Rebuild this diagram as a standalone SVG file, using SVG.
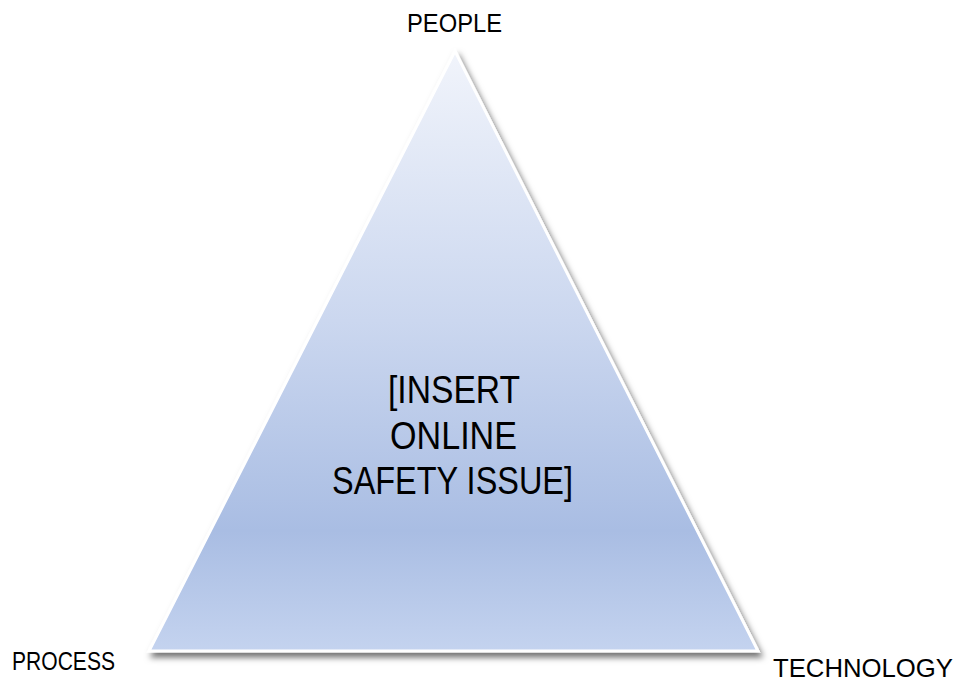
<svg xmlns="http://www.w3.org/2000/svg" width="956" height="684" viewBox="0 0 956 684">
  <style>
    .label { font-family: "Liberation Sans", Arial, sans-serif; fill: #000000; }
    .corner { font-size: 26px; }
    .center { font-size: 38px; text-anchor: middle; }
  </style>
  <defs>
    <linearGradient id="pyramidFill" x1="0" y1="0" x2="0" y2="1">
      <stop offset="0" stop-color="#f1f4fb"/>
      <stop offset="0.45" stop-color="#cbd7ef"/>
      <stop offset="0.8" stop-color="#a9bde3"/>
      <stop offset="1" stop-color="#c4d3ef"/>
    </linearGradient>
    <filter id="outerShadow" x="-10%" y="-10%" width="125%" height="125%">
      <feDropShadow dx="3" dy="5" stdDeviation="3" flood-color="#000000" flood-opacity="0.55"/>
    </filter>
  </defs>

  <rect width="956" height="684" fill="#ffffff"/>

  <!-- central triangle with its issue text -->
  <g id="issue">
    <polygon points="455,51 149,651 758,651" fill="url(#pyramidFill)" stroke="#ffffff" stroke-width="3" stroke-linejoin="miter" filter="url(#outerShadow)"/>
    <text class="label center" x="454" y="403" textLength="132" lengthAdjust="spacingAndGlyphs">[INSERT</text>
    <text class="label center" x="453.5" y="449" textLength="127" lengthAdjust="spacingAndGlyphs">ONLINE</text>
    <text class="label center" x="452.5" y="494" textLength="241" lengthAdjust="spacingAndGlyphs">SAFETY ISSUE]</text>
  </g>

  <!-- corner labels -->
  <g id="people">
    <text class="label corner" x="407" y="32" textLength="95" lengthAdjust="spacingAndGlyphs">PEOPLE</text>
  </g>
  <g id="process">
    <text class="label corner" x="12" y="670" textLength="103" lengthAdjust="spacingAndGlyphs">PROCESS</text>
  </g>
  <g id="technology">
    <text class="label corner" x="773" y="677" textLength="180" lengthAdjust="spacingAndGlyphs">TECHNOLOGY</text>
  </g>

  <g id="connectors"></g>
</svg>
